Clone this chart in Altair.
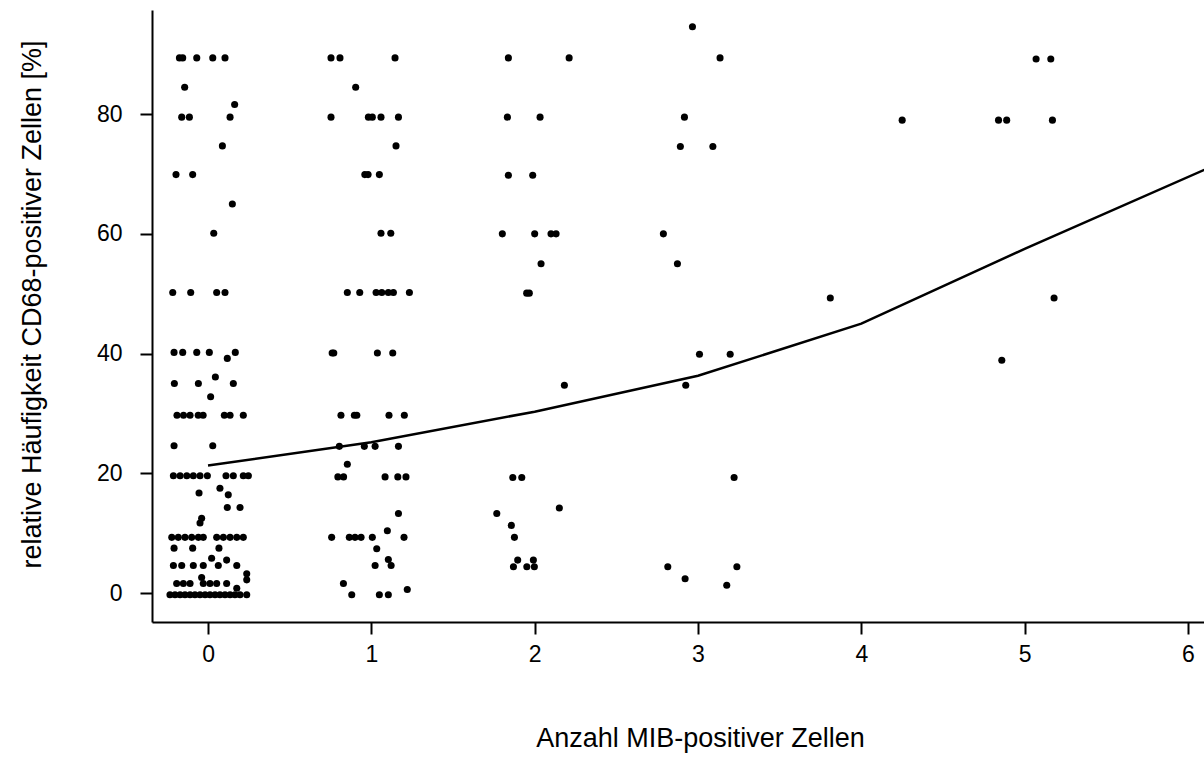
import altair as alt
import pandas as pd

# MIB = 0 group (jittered positions)
g0_x = [-0.175, -0.155, -0.069, 0.029, 0.104,
        -0.143, 0.163, -0.161, -0.114, 0.135, 0.088, -0.196, -0.094, 0.149, 0.035,
        -0.216, -0.106, 0.053, 0.104,
        -0.208, -0.155, -0.069, 0.008, 0.167, 0.118,
        -0.206, -0.059, 0.155, 0.045, 0.016,
        -0.19, -0.15, -0.11, -0.06, -0.03, 0.10, 0.135, 0.216,
        -0.208, 0.029,
        -0.212, -0.171, -0.130, -0.090, -0.049, -0.004, 0.110, 0.155, 0.216, 0.247,
        -0.055, 0.073, 0.124, 0.118, 0.196, -0.039, -0.049,
        -0.222, -0.182, -0.141, -0.100, -0.059, -0.029, 0.053, 0.094, 0.135, 0.176, 0.216,
        -0.208, -0.094, 0.067,
        -0.212, -0.161, -0.090, -0.029, 0.063, 0.022, 0.114, 0.176, 0.237,
        -0.192, -0.151, -0.110, -0.029, 0.012, 0.053, 0.114, -0.039, 0.176, 0.237,
        -0.233, -0.202, -0.171, -0.141, -0.110, -0.080, -0.049, -0.018, 0.012, 0.043,
        0.073, 0.104, 0.135, 0.165, 0.196, 0.237]
g0_y = [89.4, 89.4, 89.4, 89.4, 89.4,
        84.5, 81.6, 79.5, 79.5, 79.5, 74.7, 69.9, 69.9, 65.0, 60.1,
        50.2, 50.2, 50.2, 50.2,
        40.2, 40.2, 40.2, 40.2, 40.2, 39.2,
        35.0, 35.0, 35.0, 36.1, 32.8,
        29.7, 29.7, 29.7, 29.7, 29.7, 29.7, 29.7, 29.7,
        24.6, 24.6,
        19.6, 19.6, 19.6, 19.6, 19.6, 19.6, 19.6, 19.6, 19.6, 19.6,
        16.7, 17.5, 16.4, 14.3, 14.3, 12.5, 11.7,
        9.3, 9.3, 9.3, 9.3, 9.3, 9.3, 9.3, 9.3, 9.3, 9.3, 9.3,
        7.5, 7.5, 7.5,
        4.6, 4.6, 4.6, 4.6, 4.6, 5.8, 5.5, 4.6, 3.2,
        1.6, 1.6, 1.6, 1.6, 1.6, 1.6, 1.6, 2.6, 0.8, 2.2,
        -0.3, -0.3, -0.3, -0.3, -0.3, -0.3, -0.3, -0.3, -0.3, -0.3,
        -0.3, -0.3, -0.3, -0.3, -0.3, -0.3]

# MIB = 1 group
g1_x = [0.753, 0.808, 1.145, 0.904,
        0.753, 0.982, 1.006, 1.059, 1.166, 1.151,
        0.960, 0.980, 1.049, 1.059, 1.119,
        0.853, 0.929, 1.029, 1.064, 1.104, 1.135, 1.233,
        0.760, 0.770, 1.037, 1.131,
        0.814, 0.896, 0.911, 1.108, 1.202,
        0.804, 0.957, 1.023, 1.166, 0.853,
        0.795, 0.830, 1.084, 1.162, 1.212,
        1.166, 1.098,
        0.757, 0.865, 0.900, 0.937, 1.006, 1.200,
        1.033, 1.104, 1.023, 1.121, 0.829, 1.220, 0.880, 1.049, 1.104]
g1_y = [89.4, 89.4, 89.4, 84.5,
        79.5, 79.5, 79.5, 79.5, 79.5, 74.7,
        69.9, 69.9, 69.9, 60.1, 60.1,
        50.2, 50.2, 50.2, 50.2, 50.2, 50.2, 50.2,
        40.1, 40.1, 40.1, 40.1,
        29.7, 29.7, 29.7, 29.7, 29.7,
        24.5, 24.5, 24.5, 24.5, 21.5,
        19.4, 19.4, 19.4, 19.4, 19.4,
        13.3, 10.4,
        9.3, 9.3, 9.3, 9.3, 9.3, 9.3,
        7.4, 5.6, 4.6, 4.6, 1.6, 0.6, -0.3, -0.3, -0.3]

# MIB = 2 group
g2_x = [1.839, 2.211, 1.833, 2.033, 1.839, 1.988,
        1.802, 2.000, 2.100, 2.131, 2.039, 1.951, 1.967,
        2.182, 1.866, 1.921, 2.151, 1.768, 1.857, 1.876,
        1.896, 1.992, 1.870, 1.952, 1.998]
g2_y = [89.4, 89.4, 79.5, 79.5, 69.8, 69.8,
        60.0, 60.0, 60.0, 60.0, 55.0, 50.1, 50.1,
        34.7, 19.3, 19.3, 14.2, 13.3, 11.3, 9.3,
        5.5, 5.5, 4.4, 4.4, 4.4]

# MIB = 3 group
g3_x = [2.966, 3.135, 2.917, 2.892, 3.091, 2.788, 2.874,
        3.009, 3.197, 2.925, 3.221, 2.815, 3.238, 2.921, 3.176]
g3_y = [94.6, 89.4, 79.5, 74.6, 74.6, 60.0, 55.0,
        39.9, 39.9, 34.7, 19.3, 4.4, 4.4, 2.4, 1.3]

# MIB = 4 and 5 groups
g4_x = [3.81, 4.25]
g4_y = [49.3, 79.0]
g5_x = [5.07, 5.16, 4.84, 4.89, 5.17, 5.18, 4.86]
g5_y = [89.2, 89.2, 79.0, 79.0, 79.0, 49.3, 38.9]

# fitted curve
fit_x = [0, 1, 2, 3, 4, 5, 6.1]
fit_y = [21.3, 25.2, 30.3, 36.3, 45.0, 57.5, 70.7]

x_ticks = [0, 1, 2, 3, 4, 5, 6]
y_ticks = [0, 20, 40, 60, 80]

pts = pd.DataFrame({
    "x": g0_x + g1_x + g2_x + g3_x + g4_x + g5_x,
    "y": g0_y + g1_y + g2_y + g3_y + g4_y + g5_y,
})
fit = pd.DataFrame({"x": fit_x, "y": fit_y})

FONT = "Liberation Sans"

xscale = alt.Scale(domain=[-0.343, 6.098], nice=False, zero=False)
yscale = alt.Scale(domain=[-4.84, 97.4], nice=False, zero=False)

xaxis = alt.Axis(values=x_ticks, format="d", title="Anzahl MIB-positiver Zellen", grid=False,
                 domainColor="black", domainWidth=2, tickColor="black", tickWidth=2,
                 tickSize=12, labelFontSize=23, labelFont=FONT, labelColor="black",
                 labelPadding=9, titleFont=FONT, titleFontSize=27, titleFontWeight="normal",
                 titleColor="black", titleX=548, titleY=116, titleBaseline="middle",
                 titleAnchor="middle", titleAlign="center")
yaxis = alt.Axis(values=y_ticks, format="d", title="relative Häufigkeit CD68-positiver Zellen [%]",
                 grid=False, domainColor="black", domainWidth=2, tickColor="black",
                 tickWidth=2, tickSize=12, labelFontSize=23, labelFont=FONT,
                 labelColor="black", labelPadding=18, titleFont=FONT, titleFontSize=27,
                 titleFontWeight="normal", titleColor="black", titleX=-120, titleY=294,
                 titleAngle=270, titleBaseline="middle", titleAlign="center")

points = alt.Chart(pts).mark_circle(size=50, color="black", opacity=1, clip=True).encode(
    x=alt.X("x:Q", scale=xscale, axis=xaxis),
    y=alt.Y("y:Q", scale=yscale, axis=yaxis),
)
line = alt.Chart(fit).mark_line(color="black", strokeWidth=2.5, clip=True).encode(
    x=alt.X("x:Q", scale=xscale),
    y=alt.Y("y:Q", scale=yscale),
)

chart = alt.layer(points, line).properties(
    width=1052, height=612,
    autosize=alt.AutoSizeParams(type="none"),
    padding={"left": 152, "top": 10, "right": 0, "bottom": 147},
    background="white",
).configure_view(strokeWidth=0)

chart.save("out.html", embed_options={"renderer": "svg", "actions": False})
